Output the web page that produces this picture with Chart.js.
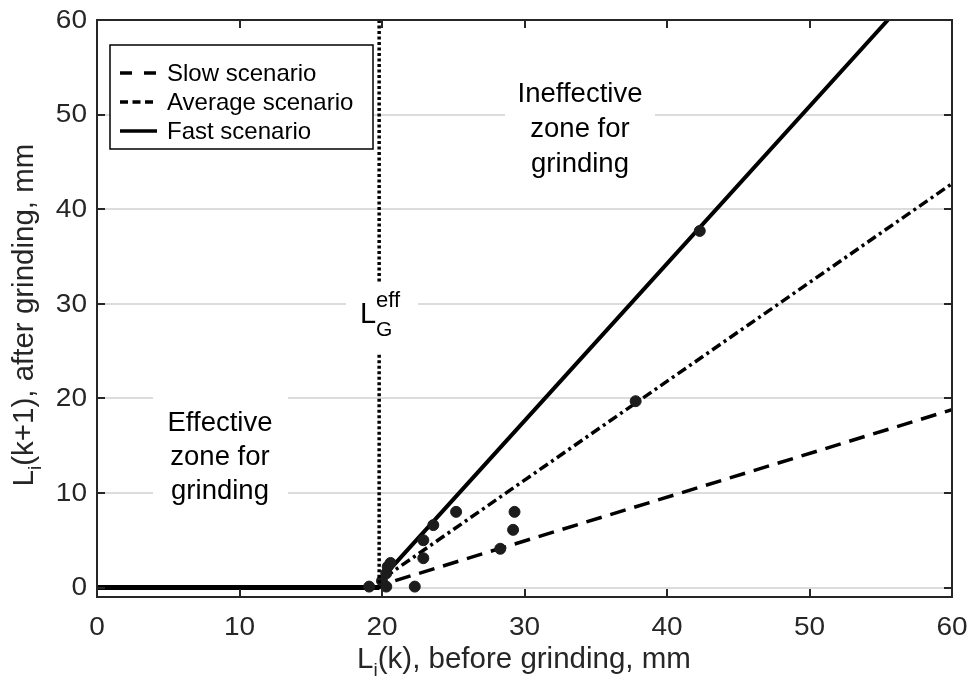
<!DOCTYPE html>
<html>
<head>
<meta charset="utf-8">
<script src="https://cdn.jsdelivr.net/npm/chart.js@4"></script>
<style>
  html, body { margin: 0; padding: 0; background: #fff; }
  #wrap { width: 972px; height: 683px; }
</style>
</head>
<body>
<div id="wrap"><canvas id="grind"></canvas></div>
<script>
// ticks
const xTicks = [0, 10, 20, 30, 40, 50, 60];
const yTicks = [0, 10, 20, 30, 40, 50, 60];

// threshold L_G^eff
const thresholdX = 19.8;
const thresholdY = [60, 32.3, null, 24.6, 0];

// scenario lines
const slowX = [0, 19.8, 20, 60];
const slowY = [0, 0, 0.3, 18.8];
const avgX = [0, 19.8, 20, 60];
const avgY = [0, 0, 0.9, 42.7];
const fastX = [0, 19.8, 20, 55.5];
const fastY = [0, 0, 1.0, 60];

// measured points
const measX = [19.1, 20.0, 20.3, 20.4, 20.6, 20.3, 22.3, 22.9, 22.9, 23.6, 25.2, 28.3, 29.2, 29.3, 37.8, 42.3];
const measY = [0.1, 0.7, 1.5, 2.2, 2.6, 0.1, 0.1, 3.1, 5.0, 6.6, 8.0, 4.1, 6.1, 8.0, 19.7, 37.7];

const legendNames = ['Slow scenario', 'Average scenario', 'Fast scenario'];

const FONT = '"Liberation Sans", Arial, Helvetica, sans-serif';
const INK = '#262626';

const xy = (xs, ys) => xs.map((x, i) => ({ x: x, y: ys[i] }));

// text a bit wider than the font, like the picture
function wideText(ctx, t, x, y, size, align, sx) {
  ctx.save();
  ctx.font = size + 'px ' + FONT;
  ctx.textAlign = align;
  ctx.translate(x, y);
  ctx.scale(sx, 1);
  ctx.fillText(t, 0, 0);
  ctx.restore();
}

// ticks inside the box on all four sides, tick labels, and the box itself
const boxPlugin = {
  id: 'box',
  afterDatasetsDraw(chart) {
    const { ctx, chartArea: a, scales } = chart;
    ctx.save();
    ctx.strokeStyle = INK;
    ctx.lineWidth = 2;
    ctx.beginPath();
    xTicks.forEach(v => {
      const px = Math.round(scales.x.getPixelForValue(v));
      ctx.moveTo(px, a.bottom); ctx.lineTo(px, a.bottom - 8);
      ctx.moveTo(px, a.top); ctx.lineTo(px, a.top + 8);
    });
    yTicks.forEach(v => {
      const py = Math.round(scales.y.getPixelForValue(v));
      ctx.moveTo(a.left, py); ctx.lineTo(a.left + 8, py);
      ctx.moveTo(a.right, py); ctx.lineTo(a.right - 8, py);
    });
    ctx.stroke();
    ctx.strokeRect(a.left, a.top, a.right - a.left, a.bottom - a.top);

    ctx.fillStyle = INK;
    ctx.textBaseline = 'middle';
    xTicks.forEach(v => wideText(ctx, String(v), scales.x.getPixelForValue(v), 628, 25, 'center', 1.12));
    yTicks.forEach(v => wideText(ctx, String(v), 87, scales.y.getPixelForValue(v) + 1, 25, 'right', 1.12));
    ctx.restore();
  }
};

// text zones with white background (cover the grid, under the lines)
function textBlock(ctx, lines, cx, cy, size, lh, box) {
  ctx.fillStyle = '#fff';
  ctx.fillRect(box[0], box[1], box[2], box[3]);
  ctx.fillStyle = '#000';
  ctx.font = size + 'px ' + FONT;
  ctx.textAlign = 'center';
  ctx.textBaseline = 'middle';
  lines.forEach((t, i) => ctx.fillText(t, cx, cy + i * lh));
}

const notesPlugin = {
  id: 'notes',
  beforeDatasetsDraw(chart) {
    const { ctx } = chart;
    ctx.save();
    textBlock(ctx, ['Effective', 'zone for', 'grinding'], 220, 423, 27.5, 34, [153, 395, 135, 112]);
    textBlock(ctx, ['Ineffective', 'zone for', 'grinding'], 580, 94, 27.5, 35, [505, 72, 150, 112]);

    // L_G^eff
    ctx.fillStyle = '#fff';
    ctx.fillRect(346, 284, 72, 64);
    ctx.fillStyle = '#000';
    ctx.textAlign = 'left';
    ctx.textBaseline = 'alphabetic';
    ctx.font = '29px ' + FONT;
    ctx.fillText('L', 360, 323);
    ctx.font = '22px ' + FONT;
    ctx.fillText('eff', 376, 307);
    ctx.font = '21px ' + FONT;
    ctx.fillText('G', 376, 336);
    ctx.restore();
  },
  afterDraw(chart) {
    const { ctx } = chart;
    ctx.save();
    // legend
    ctx.fillStyle = '#fff';
    ctx.fillRect(110, 45, 263, 104);
    ctx.strokeStyle = '#000';
    ctx.lineWidth = 1.5;
    ctx.strokeRect(110, 45, 263, 104);
    const dashes = [[12, 12], [8, 4.5], []];
    legendNames.forEach((name, i) => {
      const y = 73 + i * 29;
      ctx.setLineDash(dashes[i]);
      ctx.lineWidth = 3.5;
      ctx.beginPath();
      ctx.moveTo(120, y); ctx.lineTo(157, y);
      ctx.stroke();
      ctx.setLineDash([]);
      ctx.fillStyle = '#000';
      ctx.font = '24px ' + FONT;
      ctx.textAlign = 'left';
      ctx.textBaseline = 'middle';
      ctx.fillText(name, 167, y + 1);
    });

    // axis titles with subscript i
    ctx.fillStyle = INK;
    ctx.textBaseline = 'alphabetic';
    ctx.textAlign = 'left';
    const part = (t, f, x, y) => { ctx.font = f; ctx.fillText(t, x, y); return ctx.measureText(t).width; };
    const big = '29.5px ' + FONT, sub = '19px ' + FONT;
    ctx.font = big;
    let w1 = ctx.measureText('L').width;
    let w2 = ctx.measureText('(k), before grinding, mm').width;
    ctx.font = sub;
    let ws = ctx.measureText('i').width;
    let x0 = 524 - (w1 + ws + w2) / 2;
    x0 += part('L', big, x0, 668);
    x0 += part('i', sub, x0, 676);
    part('(k), before grinding, mm', big, x0, 668);

    ctx.translate(33, 315);
    ctx.rotate(-Math.PI / 2);
    ctx.font = big;
    w1 = ctx.measureText('L').width;
    w2 = ctx.measureText('(k+1), after grinding, mm').width;
    ctx.font = sub;
    ws = ctx.measureText('i').width;
    x0 = -(w1 + ws + w2) / 2;
    x0 += part('L', big, x0, 0);
    x0 += part('i', sub, x0, 8);
    part('(k+1), after grinding, mm', big, x0, 0);
    ctx.restore();
  }
};

// the flat part (all scenarios on top of each other) looks heavier
const flatWidth = c => (c.p0.parsed.y === 0 && c.p1.parsed.y === 0 ? 5 : undefined);

new Chart(document.getElementById('grind'), {
  type: 'scatter',
  data: {
    datasets: [
      {
        label: 'threshold',
        data: thresholdY.map(y => ({ x: thresholdX, y: y })),
        showLine: true,
        spanGaps: false,
        borderColor: '#000',
        borderWidth: 3.5,
        borderDash: [3, 2.5],
        pointRadius: 0
      },
      {
        label: 'points',
        data: xy(measX, measY),
        showLine: false,
        pointStyle: 'circle',
        pointRadius: 5.5,
        backgroundColor: '#1c1c1c',
        borderColor: '#1c1c1c',
        borderWidth: 1
      },
      {
        label: 'points star',
        data: xy(measX, measY),
        showLine: false,
        pointStyle: 'star',
        pointRadius: 4.5,
        borderColor: '#707070',
        borderWidth: 1
      },
      {
        label: legendNames[0],
        data: xy(slowX, slowY),
        showLine: true,
        borderColor: '#000',
        borderWidth: 3.5,
        borderDash: [16, 9],
        pointRadius: 0
      },
      {
        label: legendNames[1],
        data: xy(avgX, avgY),
        showLine: true,
        borderColor: '#000',
        borderWidth: 3.5,
        borderDash: [10, 4, 3, 4],
        pointRadius: 0
      },
      {
        label: legendNames[2],
        data: xy(fastX, fastY),
        showLine: true,
        borderColor: '#000',
        borderWidth: 4,
        segment: { borderWidth: flatWidth },
        pointRadius: 0
      }
    ]
  },
  options: {
    responsive: true,
    maintainAspectRatio: false,
    animation: false,
    events: [],
    layout: { padding: { left: 0, top: 20, right: 20, bottom: 0 } },
    plugins: {
      legend: { display: false },
      tooltip: { enabled: false }
    },
    scales: {
      x: {
        type: 'linear',
        min: 0,
        max: 60,
        afterBuildTicks: s => { s.ticks = xTicks.map(v => ({ value: v })); },
        afterFit: s => { s.height = 86; },
        grid: { display: false, drawTicks: false },
        border: { display: false },
        ticks: { display: false }
      },
      y: {
        type: 'linear',
        min: -1,
        max: 60,
        afterBuildTicks: s => { s.ticks = yTicks.map(v => ({ value: v })); },
        afterFit: s => { s.width = 97; },
        grid: { color: '#dcdcdc', lineWidth: 2, drawTicks: false },
        border: { display: false },
        ticks: { display: false }
      }
    }
  },
  plugins: [notesPlugin, boxPlugin]
});
</script>
</body>
</html>
